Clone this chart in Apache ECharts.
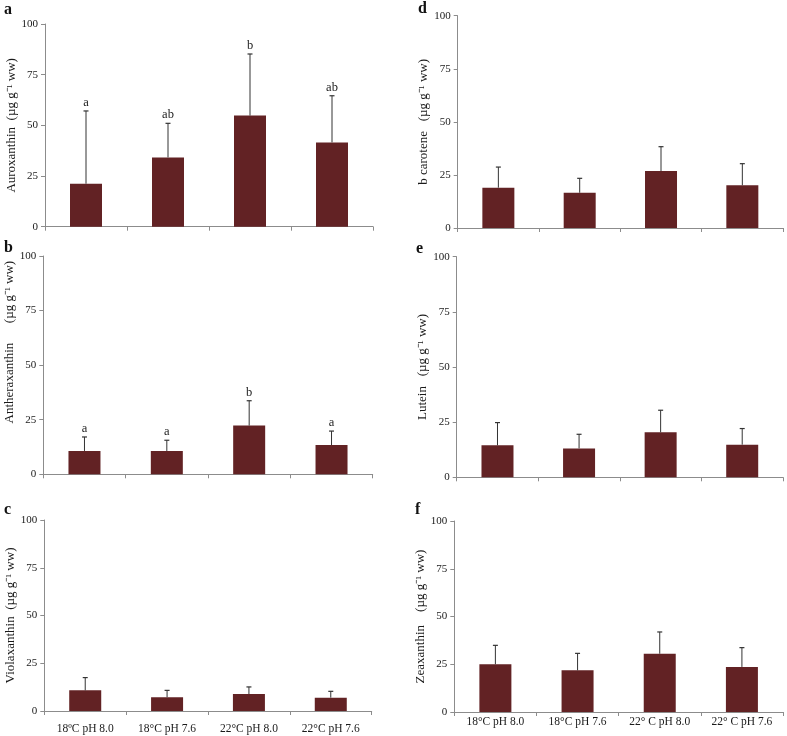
<!DOCTYPE html>
<html><head><meta charset="utf-8">
<script src="https://cdn.jsdelivr.net/npm/echarts@6/dist/echarts.min.js"></script>
<style>html,body{margin:0;padding:0;background:#fff}#c{width:787px;height:736px}</style>
</head><body><div id="c"></div>
<script>
// Categories
const catsC = ['18ºC pH 8.0', '18°C pH 7.6', '22°C pH 8.0', '22°C pH 7.6'];
const catsF = ['18°C pH 8.0', '18°C pH 7.6', '22° C pH 8.0', '22° C pH 7.6'];
// Y-axis ticks
const yTicks = [0, 25, 50, 75, 100];
// Series values (mean) and error (SD above mean)
const auroxanthin = [21.2, 34.2, 54.8, 41.6];
const auroxanthinErr = [35.9, 16.8, 30.4, 23.0];
const auroxanthinSig = ['a', 'ab', 'b', 'ab'];
const antheraxanthin = [10.7, 10.7, 22.3, 13.4];
const antheraxanthinErr = [6.4, 4.9, 11.4, 6.4];
const antheraxanthinSig = ['a', 'a', 'b', 'a'];
const violaxanthin = [10.8, 7.2, 8.9, 7.0];
const violaxanthinErr = [6.7, 3.6, 3.7, 3.3];
const bCarotene = [19.0, 16.6, 26.8, 20.1];
const bCaroteneErr = [9.7, 6.8, 11.5, 10.2];
const lutein = [14.5, 13.1, 20.4, 14.8];
const luteinErr = [10.3, 6.4, 10.0, 7.3];
const zeaxanthin = [25.0, 21.8, 30.5, 23.6];
const zeaxanthinErr = [9.9, 8.9, 11.4, 10.1];

const panels = [
  {letter: 'a', name: 'Auroxanthin  (µg g⁻¹ ww)', vals: auroxanthin, err: auroxanthinErr, sig: auroxanthinSig, cats: catsC, showX: false,
   grid: {left: 45, top: 24, width: 328, height: 202.7}, lp: [4, 2], pad: 0, xm: 8},
  {letter: 'b', name: 'Antheraxanthin      (µg g⁻¹ ww)', vals: antheraxanthin, err: antheraxanthinErr, sig: antheraxanthinSig, cats: catsC, showX: false,
   grid: {left: 43.3, top: 256, width: 329.4, height: 218.3}, lp: [4, 240], pad: 46, xm: 8},
  {letter: 'c', name: 'Violaxanthin  (µg g⁻¹ ww)', vals: violaxanthin, err: violaxanthinErr, sig: null, cats: catsC, showX: true,
   grid: {left: 44.3, top: 520, width: 327.4, height: 191}, lp: [4, 502], pad: 0, xm: 12},
  {letter: 'd', name: 'b carotene   (µg g⁻¹ ww)', vals: bCarotene, err: bCaroteneErr, sig: null, cats: catsC, showX: false,
   grid: {left: 457.7, top: 15.7, width: 325.3, height: 212.3}, lp: [418, 1], pad: 0, xm: 8},
  {letter: 'e', name: 'Lutein   (µg g⁻¹ ww)', vals: lutein, err: luteinErr, sig: null, cats: catsC, showX: false,
   grid: {left: 456.7, top: 256.7, width: 326.3, height: 220.6}, lp: [416, 241], pad: 0, xm: 8},
  {letter: 'f', name: 'Zeaxanthin    (µg g⁻¹ ww)', vals: zeaxanthin, err: zeaxanthinErr, sig: null, cats: catsF, showX: true,
   grid: {left: 454.3, top: 521, width: 328.7, height: 191}, lp: [415, 502], pad: 0, xm: 4}
];

const serif = 'Liberation Serif, Times New Roman, serif';
const axisGray = '#8c8c8c';
const barColor = '#622224';

const option = {
  animation: false,
  backgroundColor: '#fff',
  grid: [], xAxis: [], yAxis: [], series: [], graphic: []
};

panels.forEach((p, i) => {
  option.grid.push(Object.assign({containLabel: false}, p.grid));
  option.xAxis.push({
    type: 'category', gridIndex: i, data: p.cats,
    axisLine: {lineStyle: {color: axisGray, width: 1}},
    axisTick: {show: true, alignWithLabel: false, length: 4, lineStyle: {color: axisGray}},
    axisLabel: {show: p.showX, fontFamily: serif, fontSize: 11.5, color: '#1a1a1a', margin: p.xm},
    splitLine: {show: false}
  });
  option.yAxis.push({
    type: 'value', gridIndex: i, min: yTicks[0], max: yTicks[yTicks.length - 1],
    interval: yTicks[1] - yTicks[0],
    name: p.name, nameLocation: 'middle', nameGap: 27,
    nameTextStyle: {fontFamily: serif, fontSize: 13, color: '#1a1a1a', padding: [0, 0, 0, p.pad]},
    axisLine: {show: true, lineStyle: {color: axisGray, width: 1}},
    axisTick: {show: true, length: 4, lineStyle: {color: axisGray}},
    axisLabel: {fontFamily: serif, fontSize: 11, color: '#1a1a1a', margin: 7},
    splitLine: {show: false}
  });
  option.series.push({
    type: 'bar', xAxisIndex: i, yAxisIndex: i, data: p.vals,
    barWidth: 32, itemStyle: {color: barColor}, z: 2
  });
  const sig = p.sig;
  option.series.push({
    type: 'custom', xAxisIndex: i, yAxisIndex: i, z: 3,
    data: p.vals.map((v, k) => [k, v, v + p.err[k]]),
    renderItem: function (params, api) {
      const base = api.coord([api.value(0), api.value(1)]);
      const top = api.coord([api.value(0), api.value(2)]);
      const children = [
        {type: 'line', shape: {x1: base[0], y1: base[1], x2: top[0], y2: top[1]}, style: {stroke: '#333', lineWidth: 1}},
        {type: 'line', shape: {x1: top[0] - 2.5, y1: top[1], x2: top[0] + 2.5, y2: top[1]}, style: {stroke: '#333', lineWidth: 1.2}}
      ];
      if (sig) {
        children.push({type: 'text', style: {text: sig[params.dataIndex], x: top[0], y: top[1] - 2,
          textAlign: 'center', textVerticalAlign: 'bottom', fontFamily: serif, fontSize: 12.5, fill: '#1a1a1a'}});
      }
      return {type: 'group', children: children};
    }
  });
  option.graphic.push({type: 'text', left: p.lp[0], top: p.lp[1],
    style: {text: p.letter, fontFamily: serif, fontSize: 16, fontWeight: 'bold', fill: '#111'}});
});

const chart = echarts.init(document.getElementById('c'), null, {renderer: 'canvas'});
chart.setOption(option);
</script>
</body></html>
